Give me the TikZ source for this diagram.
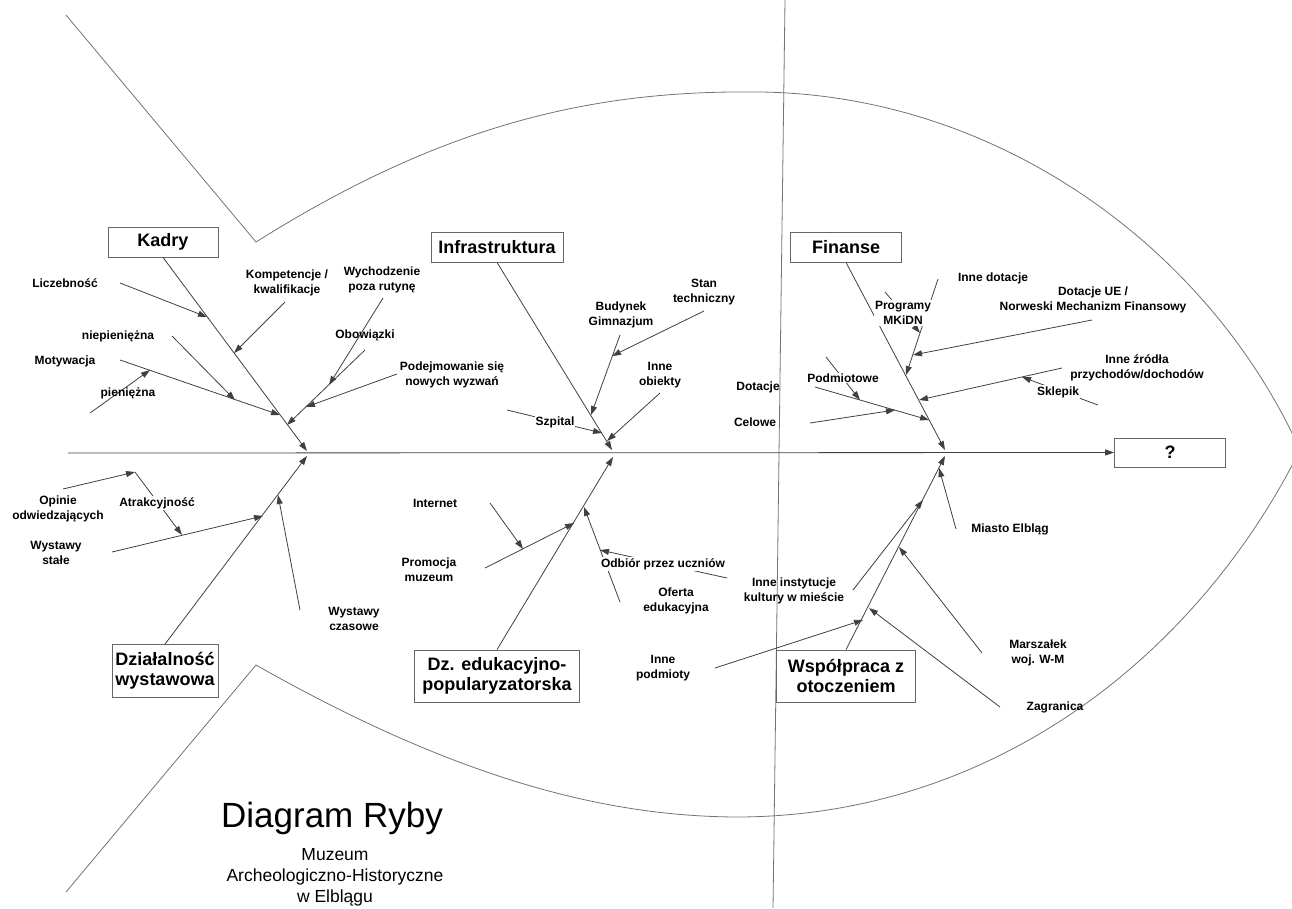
\documentclass[tikz,border=0pt]{standalone}
\usepackage{fontspec}
\setmainfont{Liberation Sans}
\usetikzlibrary{arrows.meta}
\tikzset{
    line color/.style={black!75},
    fish color/.style={black!55},
    arr/.style={-{Triangle[length=9pt,width=6pt]},line color,line width=0.8pt},
    bone/.style={arr},
    fish outline/.style={fish color,line width=0.8pt},
    category/.style={draw=black!60,fill=white,line width=0.8pt,align=center,inner sep=2pt,
        font=\fontsize{18}{20}\selectfont\bfseries},
    cause/.style={align=center,inner sep=1pt,font=\fontsize{12}{15}\selectfont\bfseries},
    cause on line/.style={cause,fill=white},
    title text/.style={anchor=base,font=\fontsize{35}{35}\selectfont},
    subtitle text/.style={anchor=base,font=\fontsize{17.5}{21}\selectfont},
}

\begin{document}
\begin{tikzpicture}[x=1pt,y=-1pt]
        \useasboundingbox (0,0) rectangle (1292,908);

        % fish
        \draw[fish outline] (66,15) -- (256,242)
        .. controls (450,120) and (600,90) .. (760,92)
        .. controls (1000,95) and (1210,250) .. (1300,450);
        \draw[fish outline] (66,892) -- (256,665)
        .. controls (450,775) and (600,817) .. (740,817)
        .. controls (1000,815) and (1200,650) .. (1300,450);
        \draw[fish outline] (785,0) -- (773,908);

        % categories
        \node[category,minimum width=110pt,minimum height=30pt] (kadry) at (163,242) {Kadry};
        \node[category,minimum width=132pt,minimum height=30pt] (infra) at (497,247) {Infrastruktura};
        \node[category,minimum width=111pt,minimum height=30pt] (fin) at (846,247) {Finanse};
        \node[category,minimum width=106pt,minimum height=53pt] (dzial) at (165,671) {Działalność\\wystawowa};
        \node[category,minimum width=165pt,minimum height=52pt] (edu) at (497,676) {Dz. edukacyjno-\\popularyzatorska};
        \node[category,minimum width=139pt,minimum height=52pt] (wspol) at (846,676) {Współpraca z\\otoczeniem};
        \node[category,minimum width=111pt,minimum height=29pt] (effect) at (1170,452.5) {?};

        % spine and bones
        \coordinate (tail) at (68,453);
        \draw[arr] (tail) -- (effect.west);
        \coordinate (kadryJ) at (307,451);
        \coordinate (dzialJ) at (307,456);
        \coordinate (infraJ) at (612,450);
        \coordinate (eduJ) at (613,457);
        \coordinate (finJ) at (945,450);
        \coordinate (wspolJ) at (945,456);
        \draw[bone] (kadry.south) -- (kadryJ);
        \draw[bone] (dzial.north) -- (dzialJ);
        \draw[bone] (infra.south) -- (infraJ);
        \draw[bone] (edu.north) -- (eduJ);
        \draw[bone] (fin.south) -- (finJ);
        \draw[bone] (wspol.north) -- (wspolJ);

        % ribs: name/tail/head
        \foreach \n/\ax/\ay/\bx/\by in {
                licz/120/283/207/317, komp/285/302/234/353, motyw/120/360/280/415,
                niepien/172/336/235/400, pien/90/413/150/370, obow/365/350/287/425,
                wych/383/298/329/385, podej/397/374/306/407,
                opin/63/489/135/472, atrak/135/472/182/535, stale/112/552/263/516,
                czas/300/610/278/495,
                bud/620/335/591/415, stan/704/311/612/356, inob/660/393/607/441,
                szp/507/410/602/433,
                prom/485/568/574/523, inet/490/503/523/549, ofer/620/602/584/507,
                odb/727/578/600/550, inpod/715/668/863/620,
                indot/938/279/906/375, prog/885/292/920/333, ue/1092/320/913/355,
                zrod/1062/368/919/400, sklep/1098/405/1022/377, dot/815/387/929/420,
                podm/826/357/860/400, cel/810/423/895/410,
                miasto/956/529/939/468, ininst/853/590/923/500, marsz/982/653/899/547,
                zagr/1000/707/869/608}{
                \coordinate (\n-t) at (\ax,\ay);
                \coordinate (\n-h) at (\bx,\by);
                \draw[arr] (\n-t) -- (\n-h);
            };

        % causes
        \node[cause] (licz) at (65,283) {Liczebność};
        \node[cause] (komp) at (287,283) {Kompetencje /\\kwalifikacje};
        \node[cause] (motyw) at (65,361) {Motywacja};
        \node[cause] (niepien) at (118,336) {niepieniężna};
        \node[cause] (pien) at (128,393) {pieniężna};
        \node[cause] (obow) at (365,335) {Obowiązki};
        \node[cause] (wych) at (382,280) {Wychodzenie\\poza rutynę};
        \node[cause] (podej) at (452,375) {Podejmowanie się\\nowych wyzwań};

        \node[cause] (opin) at (58,509) {Opinie\\odwiedzających};
        \node[cause on line] (atrak) at (157,503) {Atrakcyjność};
        \node[cause] (stale) at (56,553) {Wystawy\\stałe};
        \node[cause] (czas) at (354,619) {Wystawy\\czasowe};

        \node[cause] (bud) at (621,315) {Budynek\\Gimnazjum};
        \node[cause] (stan) at (704,292) {Stan\\techniczny};
        \node[cause] (inob) at (660,375) {Inne\\obiekty};
        \node[cause on line] (szp) at (555,422) {Szpital};

        \node[cause] (inet) at (435,503) {Internet};
        \node[cause] (prom) at (429,570) {Promocja\\muzeum};
        \node[cause on line] (odb) at (663,564) {Odbiór przez uczniów};
        \node[cause] (ofer) at (676,601) {Oferta\\edukacyjna};
        \node[cause] (inpod) at (663,668) {Inne\\podmioty};

        \node[cause] (indot) at (993,278) {Inne dotacje};
        \node[cause on line] (prog) at (903,313) {Programy\\MKiDN};
        \node[cause] (ue) at (1093,300) {Dotacje UE /\\Norweski Mechanizm Finansowy};
        \node[cause] (zrod) at (1137,368) {Inne źródła\\przychodów/dochodów};
        \node[cause on line] (sklep) at (1058,392) {Sklepik};
        \node[cause] (dot) at (758,387) {Dotacje};
        \node[cause on line] (podm) at (843,378) {Podmiotowe};
        \node[cause] (cel) at (755,422) {Celowe};

        \node[cause] (miasto) at (1010,529) {Miasto Elbląg};
        \node[cause] (ininst) at (794,591) {Inne instytucje\\kultury w mieście};
        \node[cause] (marsz) at (1038,653) {Marszałek\\woj. W-M};
        \node[cause] (zagr) at (1055,707) {Zagranica};

        % title
        \node[title text] (title) at (332,827) {Diagram Ryby};
        \node[subtitle text] (sub1) at (335,860) {Muzeum};
        \node[subtitle text] (sub2) at (335,881) {Archeologiczno-Historyczne};
        \node[subtitle text] (sub3) at (335,902) {w Elblągu};
    \end{tikzpicture}
\end{document}
